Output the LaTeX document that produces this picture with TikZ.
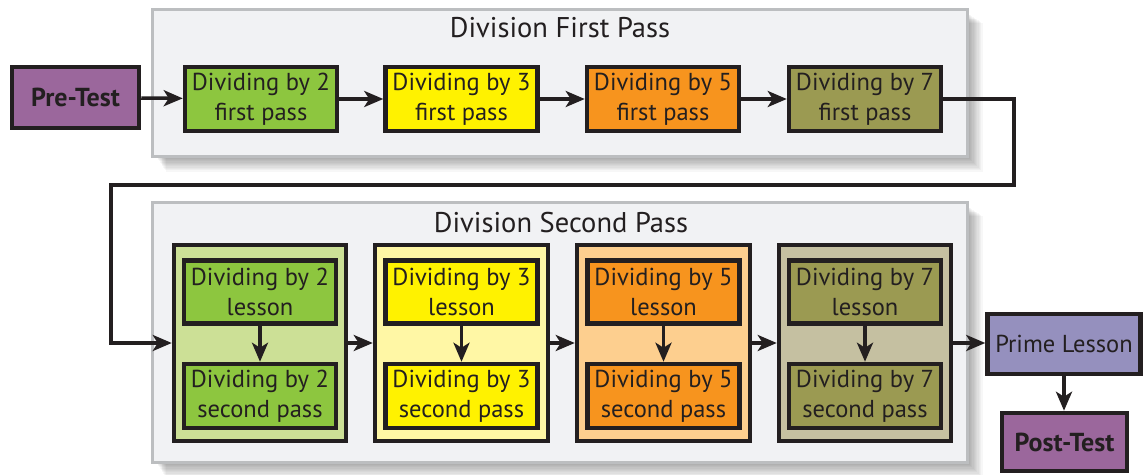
\documentclass[tikz,border=0pt]{standalone}
\usepackage{fontspec}
\setmainfont{PT Sans}
\usetikzlibrary{arrows.meta}
\definecolor{ink}{HTML}{231F20}
\definecolor{panelfill}{HTML}{F1F2F4}
\definecolor{panelline}{HTML}{BCBEC0}
\definecolor{cgreen}{HTML}{8DC63F}
\definecolor{cgreenL}{HTML}{CCE096}
\definecolor{cyellow}{HTML}{FFF200}
\definecolor{cyellowL}{HTML}{FFF7A5}
\definecolor{corange}{HTML}{F7941E}
\definecolor{corangeL}{HTML}{FDCF8F}
\definecolor{colive}{HTML}{9B9A52}
\definecolor{coliveL}{HTML}{C5C0A1}
\definecolor{cpurple}{HTML}{9B679C}
\definecolor{cprime}{HTML}{9590BE}
\tikzset{
  box/.style={draw=ink, line width=4.5pt, text=ink, align=center, inner sep=0pt,
    font=\fontsize{24.5}{30}\selectfont},
  outer/.style={draw=ink, line width=4.5pt, inner sep=0pt},
  panel/.style={draw=panelline, fill=panelfill, line width=3pt},
  conn/.style={draw=ink, line width=3.5pt, -{Stealth[length=19pt,width=16pt,inset=5pt]}},
  title/.style={text=ink, font=\fontsize{28.5}{32}\selectfont},
  boldtxt/.style={font=\fontsize{26}{30}\selectfont\bfseries},
}
\newcommand{\shadowbox}[4]{%
  \foreach \k in {1,...,12}{
    \fill[black, opacity=0.03] ({#1+4+\k*0.8},{#2+4+\k*0.8}) rectangle ({#3+\k*1.3},{#4+\k*1.3});
  }}
\begin{document}
\begin{tikzpicture}[x=1pt,y=-1pt]
\useasboundingbox (0,0) rectangle (1145,474);
\fill[white] (0,0) rectangle (1145,474);
% shadows
\shadowbox{152}{9}{967}{156}
\shadowbox{152}{202}{967}{462}
% panels
\draw[panel] (152,9) rectangle (967,156);
\draw[panel] (152,202) rectangle (967,462);
\node[title] (t1) at (560,28) {Division First Pass};
\node[title] (t2) at (561,223) {Division Second Pass};
% first row
\node[box, boldtxt, fill=cpurple, minimum width=127pt, minimum height=61pt] (pre) at (75.5,97.5) {Pre-Test};
\node[box, fill=cgreen, minimum width=152pt, minimum height=64pt] (f2) at (261,99) {Dividing by 2\\first pass};
\node[box, fill=cyellow, minimum width=152pt, minimum height=64pt] (f3) at (461.5,99) {Dividing by 3\\first pass};
\node[box, fill=corange, minimum width=152pt, minimum height=64pt] (f5) at (663,99) {Dividing by 5\\first pass};
\node[box, fill=colive, minimum width=152pt, minimum height=64pt] (f7) at (865,99) {Dividing by 7\\first pass};
% second row outer boxes
\node[outer, fill=cgreenL, minimum width=172pt, minimum height=196pt] (o2) at (260,343) {};
\node[outer, fill=cyellowL, minimum width=173pt, minimum height=196pt] (o3) at (461.5,343) {};
\node[outer, fill=corangeL, minimum width=173pt, minimum height=196pt] (o5) at (663.5,343) {};
\node[outer, fill=coliveL, minimum width=172pt, minimum height=196pt] (o7) at (865,343) {};
% inner boxes
\node[box, fill=cgreen, minimum width=152pt, minimum height=63pt] (l2) at (260,292) {Dividing by 2\\lesson};
\node[box, fill=cgreen, minimum width=152pt, minimum height=64pt] (s2) at (260,396) {Dividing by 2\\second pass};
\node[box, fill=cyellow, minimum width=152pt, minimum height=63pt] (l3) at (461.5,292) {Dividing by 3\\lesson};
\node[box, fill=cyellow, minimum width=152pt, minimum height=64pt] (s3) at (461.5,396) {Dividing by 3\\second pass};
\node[box, fill=corange, minimum width=152pt, minimum height=63pt] (l5) at (663.5,292) {Dividing by 5\\lesson};
\node[box, fill=corange, minimum width=152pt, minimum height=64pt] (s5) at (663.5,396) {Dividing by 5\\second pass};
\node[box, fill=colive, minimum width=152pt, minimum height=63pt] (l7) at (865,292) {Dividing by 7\\lesson};
\node[box, fill=colive, minimum width=152pt, minimum height=64pt] (s7) at (865,396) {Dividing by 7\\second pass};
% prime / post
\node[box, fill=cprime, minimum width=153pt, minimum height=60pt] (prime) at (1064,344) {Prime Lesson};
\node[box, boldtxt, fill=cpurple, minimum width=125pt, minimum height=58pt] (post) at (1064.5,442) {Post-Test};
% connectors
\draw[conn] (pre) -- (f2);
\draw[conn] (f2) -- (f3);
\draw[conn] (f3) -- (f5);
\draw[conn] (f5) -- (f7);
\coordinate (c1) at (1014,99);
\coordinate (c2) at (1014,185);
\coordinate (c3) at (111,185);
\coordinate (c4) at (111,343);
\draw[conn] (f7.east) -- (c1) -- (c2) -- (c3) -- (c4) -- (o2.west);
\draw[conn] (o2) -- (o3);
\draw[conn] (o3) -- (o5);
\draw[conn] (o5) -- (o7);
\draw[conn] (o7.east) -- (o7.east -| prime.west);
\draw[conn] (l2) -- (s2);
\draw[conn] (l3) -- (s3);
\draw[conn] (l5) -- (s5);
\draw[conn] (l7) -- (s7);
\draw[conn] (prime) -- (prime.south |- post.north);
\end{tikzpicture}
\end{document}
